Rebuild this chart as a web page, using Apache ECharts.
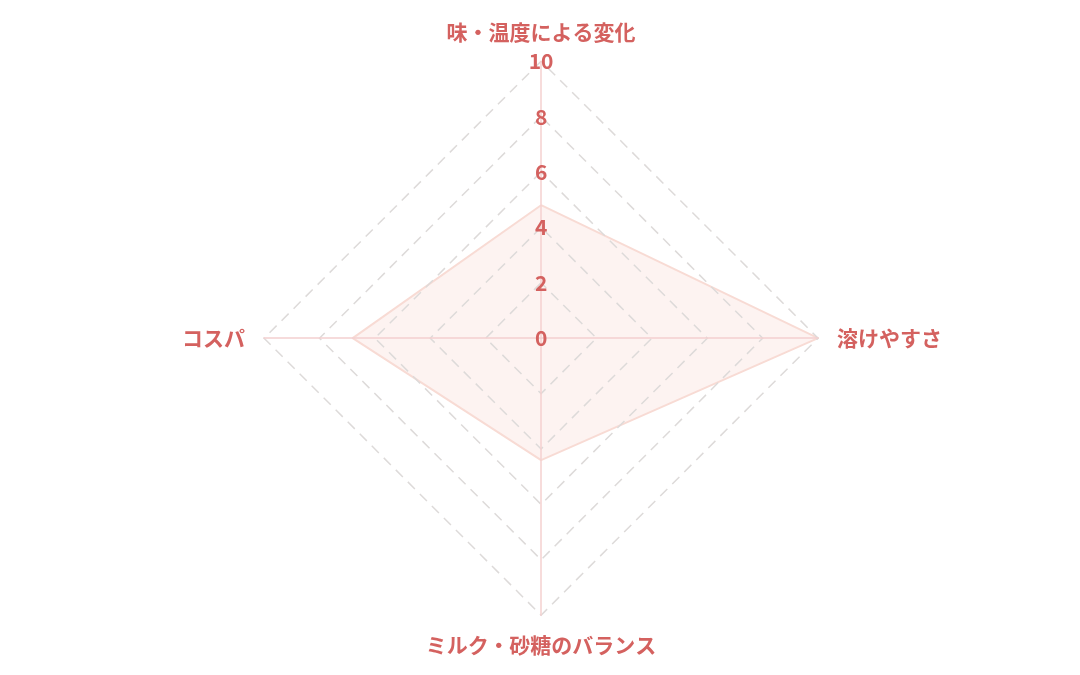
<!DOCTYPE html>
<html>
<head>
<meta charset="utf-8">
<script src="https://cdn.jsdelivr.net/npm/echarts@6/dist/echarts.min.js"></script>
<style>
html,body{margin:0;padding:0;background:#fff;}
#chart{width:1080px;height:675px;}
</style>
</head>
<body>
<div id="chart"></div>
<script>
// indicators in ECharts order (counterclockwise from top)
const indicatorNames = ['味・温度による変化', 'コスパ', 'ミルク・砂糖のバランス', '溶けやすさ'];
const indicatorMax = [10, 10, 10, 10];
const seriesValues = [4.8, 6.8, 4.4, 10];

const labelColor = '#d4615f';
const chart = echarts.init(document.getElementById('chart'));
chart.setOption({
  backgroundColor: '#ffffff',
  radar: {
    z: 5,
    center: ['50.1%', '50.1%'],
    radius: 277,
    startAngle: 90,
    splitNumber: 5,
    shape: 'polygon',
    axisName: {
      color: labelColor,
      fontSize: 21,
      fontWeight: 'bold',
      fontFamily: 'Noto Sans CJK JP'
    },
    nameGap: 19,
    indicator: indicatorNames.map((n, i) => i === 0
      ? { name: n, max: indicatorMax[i], min: 0 }
      : { name: n, max: indicatorMax[i], min: 0, axisLabel: { show: false } }),
    axisLine: { lineStyle: { color: '#f4d0cf', width: 1.5 } },
    splitLine: { lineStyle: { color: '#dddad9', type: [10, 7], width: 1.5 } },
    splitArea: { show: false },
    axisTick: { show: false },
    axisLabel: {
      show: true,
      color: labelColor,
      fontSize: 21,
      fontWeight: 'bold',
      fontFamily: 'Noto Sans CJK JP',
      margin: 0,
      align: 'center',
      verticalAlign: 'middle',
      showMinLabel: true,
      showMaxLabel: true
    }
  },
  series: [{
    type: 'radar',
    z: 1,
    symbol: 'none',
    silent: true,
    data: [{
      value: seriesValues,
      lineStyle: { color: '#f8dbd4', width: 2 },
      areaStyle: { color: 'rgba(249, 222, 214, 0.5)' }
    }]
  }]
});
</script>
</body>
</html>
